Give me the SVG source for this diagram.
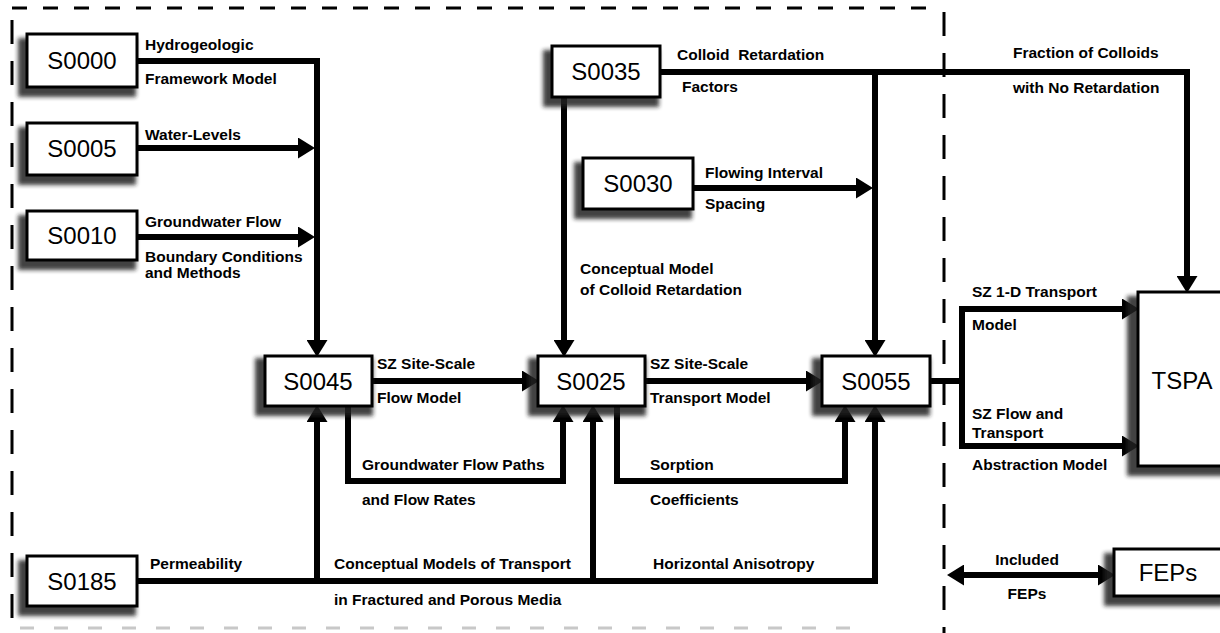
<svg xmlns="http://www.w3.org/2000/svg" width="1220" height="633" viewBox="0 0 1220 633">
<defs>
<marker id="ah" markerUnits="userSpaceOnUse" markerWidth="17" markerHeight="21" viewBox="0 0 17 21" refX="8" refY="10.5" orient="auto-start-reverse">
<path d="M0,0 L17,10.5 L0,21 Z" fill="#000"/>
</marker>
<filter id="blur" x="-20%" y="-20%" width="140%" height="150%">
<feGaussianBlur stdDeviation="2"/>
</filter>
</defs>
<style>
.box{fill:#fff;stroke:#000;stroke-width:3}
.sh{fill:#222;opacity:0.85;filter:url(#blur)}
.bt{font-family:"Liberation Sans",Arial,sans-serif;font-size:24px;fill:#000;text-anchor:middle}
.lb{font-family:"Liberation Sans",Arial,sans-serif;font-size:15.5px;font-weight:bold;fill:#000}
.c{fill:none;stroke:#000;stroke-width:6;stroke-linejoin:miter}
.a{marker-end:url(#ah)}
.d{fill:none;stroke:#000;stroke-width:3}
</style>
<rect width="1220" height="633" fill="#fff"/>
<g id="frame">
<path class="d" d="M12 8 H934" stroke-dasharray="15 16"/>
<path class="d" d="M12 20 V633" stroke-dasharray="24 17"/>
<path class="d" d="M944 12 V633" stroke-dasharray="24 17"/>
<path d="M20 628 H860" stroke="#c8c8c8" stroke-width="3" stroke-dasharray="14 20" fill="none"/>
</g>
<g id="connectors">
<path class="c a" d="M137 61 H317 V348"/>
<path class="c a" d="M137 148 H306"/>
<path class="c a" d="M137 237 H306"/>
<path class="c a" d="M372 381 H530"/>
<path class="c a" d="M564 97 V348"/>
<path class="c a" d="M660 72 H1187 V284"/>
<path class="c a" d="M875 72 V348"/>
<path class="c a" d="M693 188 H864"/>
<path class="c a" d="M645 381 H814"/>
<path class="c a" d="M348 406 V481 H563 V414"/>
<path class="c a" d="M617 406 V481 H845 V414"/>
<path class="c a" d="M137 581 H875 V414"/>
<path class="c a" d="M317 581 V414"/>
<path class="c a" d="M593 581 V414"/>
<path class="c" d="M930 381 H962"/>
<path class="c a" d="M1130 309 H962 V446 H1130" style="marker-start:url(#ah)"/>
<path class="c a" d="M956 575 H1106" style="marker-start:url(#ah)"/>
</g>
<g id="S0000"><rect class="sh" x="18" y="38" width="118" height="59"/><rect class="box" x="27" y="34" width="110" height="53"/><text class="bt" x="82" y="69">S0000</text></g>
<g id="S0005"><rect class="sh" x="18" y="127" width="118" height="58"/><rect class="box" x="27" y="123" width="110" height="52"/><text class="bt" x="82" y="157">S0005</text></g>
<g id="S0010"><rect class="sh" x="18" y="215" width="118" height="55"/><rect class="box" x="27" y="211" width="110" height="49"/><text class="bt" x="82" y="244">S0010</text></g>
<g id="S0185"><rect class="sh" x="18" y="560" width="118" height="56"/><rect class="box" x="27" y="556" width="110" height="50"/><text class="bt" x="82" y="590">S0185</text></g>
<g id="S0035"><rect class="sh" x="543" y="50" width="116" height="57"/><rect class="box" x="552" y="46" width="108" height="51"/><text class="bt" x="606" y="80">S0035</text></g>
<g id="S0030"><rect class="sh" x="574" y="162" width="118" height="57"/><rect class="box" x="583" y="158" width="110" height="51"/><text class="bt" x="638" y="192">S0030</text></g>
<g id="S0045"><rect class="sh" x="255" y="358" width="118" height="58"/><rect class="box" x="265" y="356" width="107" height="50"/><text class="bt" x="318" y="390">S0045</text></g>
<g id="S0025"><rect class="sh" x="528" y="358" width="118" height="58"/><rect class="box" x="538" y="356" width="107" height="50"/><text class="bt" x="591" y="390">S0025</text></g>
<g id="S0055"><rect class="sh" x="812" y="358" width="118" height="58"/><rect class="box" x="822" y="356" width="108" height="50"/><text class="bt" x="876" y="390">S0055</text></g>
<g id="TSPA"><rect class="sh" x="1127" y="296" width="100" height="180"/><rect class="box" x="1138" y="292" width="92" height="174"/><text class="bt" x="1182" y="389">TSPA</text></g>
<g id="FEPs"><rect class="sh" x="1104" y="553" width="120" height="53"/><rect class="box" x="1114" y="549" width="110" height="47"/><text class="bt" x="1168" y="581">FEPs</text></g>
<g id="labels">
<text class="lb" x="145" y="50">Hydrogeologic</text>
<text class="lb" x="145" y="84">Framework Model</text>
<text class="lb" x="145" y="140">Water-Levels</text>
<text class="lb" x="145" y="227">Groundwater Flow</text>
<text class="lb" x="145" y="262">Boundary Conditions</text>
<text class="lb" x="145" y="278">and Methods</text>
<text class="lb" x="677" y="60" style="white-space:pre">Colloid  Retardation</text>
<text class="lb" x="682" y="92">Factors</text>
<text class="lb" x="705" y="178">Flowing Interval</text>
<text class="lb" x="705" y="209">Spacing</text>
<text class="lb" x="580" y="274">Conceptual Model</text>
<text class="lb" x="580" y="295">of Colloid Retardation</text>
<text class="lb" x="1013" y="58">Fraction of Colloids</text>
<text class="lb" x="1013" y="93">with No Retardation</text>
<text class="lb" x="377" y="369">SZ Site-Scale</text>
<text class="lb" x="377" y="403">Flow Model</text>
<text class="lb" x="650" y="369">SZ Site-Scale</text>
<text class="lb" x="650" y="403">Transport Model</text>
<text class="lb" x="362" y="470">Groundwater Flow Paths</text>
<text class="lb" x="362" y="505">and Flow Rates</text>
<text class="lb" x="650" y="470">Sorption</text>
<text class="lb" x="650" y="505">Coefficients</text>
<text class="lb" x="972" y="297">SZ 1-D Transport</text>
<text class="lb" x="972" y="330">Model</text>
<text class="lb" x="972" y="419">SZ Flow and</text>
<text class="lb" x="972" y="438">Transport</text>
<text class="lb" x="972" y="470">Abstraction Model</text>
<text class="lb" x="150" y="569">Permeability</text>
<text class="lb" x="334" y="569">Conceptual Models of Transport</text>
<text class="lb" x="334" y="605">in Fractured and Porous Media</text>
<text class="lb" x="653" y="569">Horizontal Anisotropy</text>
<text class="lb" x="1027" y="565" text-anchor="middle">Included</text>
<text class="lb" x="1027" y="599" text-anchor="middle">FEPs</text>
</g>
</svg>
